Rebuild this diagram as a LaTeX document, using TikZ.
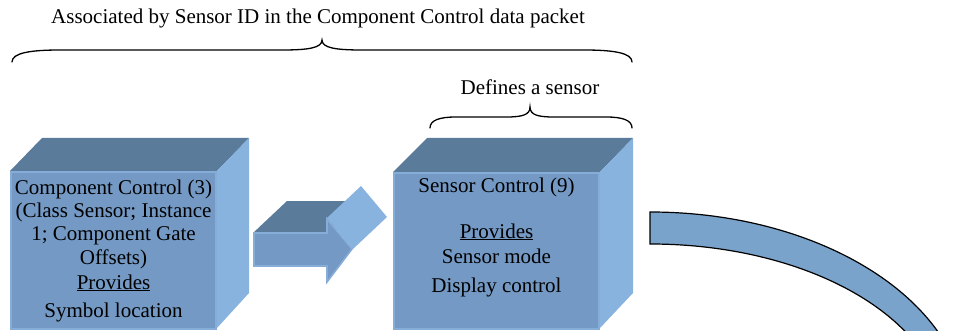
\documentclass[tikz,border=0pt]{standalone}
\usepackage{fontspec}
\setmainfont{Liberation Serif}
\definecolor{faceFront}{HTML}{7399C4}
\definecolor{faceTop}{HTML}{5B7B9B}
\definecolor{faceSide}{HTML}{89B3DF}
\definecolor{bevel}{HTML}{86ADD8}
\definecolor{bandFill}{HTML}{7AA3CB}
\tikzset{
  front/.style={fill=faceFront, draw=bevel, line width=2.2pt, line join=miter},
  topface/.style={fill=faceTop},
  sideface/.style={fill=faceSide},
  label/.style={inner sep=0pt, anchor=base, font=\fontsize{21}{24}\selectfont},
  brace/.style={draw=black, line width=1.3pt, line cap=round},
}
\begin{document}
\begin{tikzpicture}[x=1pt,y=-1pt]
\useasboundingbox (0,0) rectangle (957,331);
\clip (0,0) rectangle (957,331);

% headline and top brace
\node[label] (assoc) at (318,24) {Associated by Sensor ID in the Component Control data packet};
\draw[brace] (12,62) .. controls (12,53) and (30,50) .. (60,50) -- (282,50)
  .. controls (308,50) and (322,48) .. (322,40)
  .. controls (322,48) and (336,50) .. (362,50) -- (584,50)
  .. controls (614,50) and (632,53) .. (632,62);

% second caption and brace
\node[label] (defs) at (530,95) {Defines a sensor};
\draw[brace] (430,128) .. controls (430,120) and (440,117) .. (456,117) -- (506,117)
  .. controls (522,117) and (530,115) .. (530,107)
  .. controls (530,115) and (538,117) .. (554,117) -- (606,117)
  .. controls (622,117) and (632,120) .. (632,128);

% first block
\fill[topface] (10,171) -- (42,138) -- (249,138) -- (217,171) -- cycle;
\fill[sideface] (217,171) -- (249,138) -- (249,293) -- (217,328) -- cycle;
\draw[front] (11,172) rectangle (216,329);
\node[label] (c1a) at (113.5,194) {Component Control (3)};
\node[label] (c1b) at (113.5,217) {(Class Sensor; Instance};
\node[label] (c1c) at (113.5,240) {1; Component Gate};
\node[label] (c1d) at (113.5,264) {Offsets)};
\node[label] (c1e) at (113.5,289) {\underline{Provides}};
\node[label] (c1f) at (113.5,317) {Symbol location};

% block arrow between the blocks
\fill[topface] (253,233) -- (287,201) -- (361,201) -- (327,233) -- cycle;
\fill[sideface] (327,218) -- (361,186) -- (387,217) -- (353,249) -- cycle;
\filldraw[fill=faceFront, draw=bevel, line width=1.6pt, line join=miter]
  (254,233) -- (327,233) -- (327,219) -- (352,249) -- (327,282) -- (327,266) -- (254,266) -- cycle;

% second block
\fill[topface] (393,172) -- (427,138) -- (633,138) -- (600,172) -- cycle;
\fill[sideface] (600,172) -- (633,138) -- (633,293) -- (600,328) -- cycle;
\draw[front] (394,173) rectangle (599,329);
\node[label] (c2a) at (496.5,192) {Sensor Control (9)};
\node[label] (c2b) at (496.5,238) {\underline{Provides}};
\node[label] (c2c) at (496.5,263) {Sensor mode};
\node[label] (c2d) at (496.5,292) {Display control};

% curved band leaving the second block
\filldraw[fill=bandFill, draw=black, line width=1.2pt]
  (650,212) arc[start angle=270, end angle=360, x radius=317, y radius=206]
  -- (944,418)
  arc[start angle=0, end angle=-90, x radius=294, y radius=174]
  -- cycle;
\end{tikzpicture}
\end{document}
